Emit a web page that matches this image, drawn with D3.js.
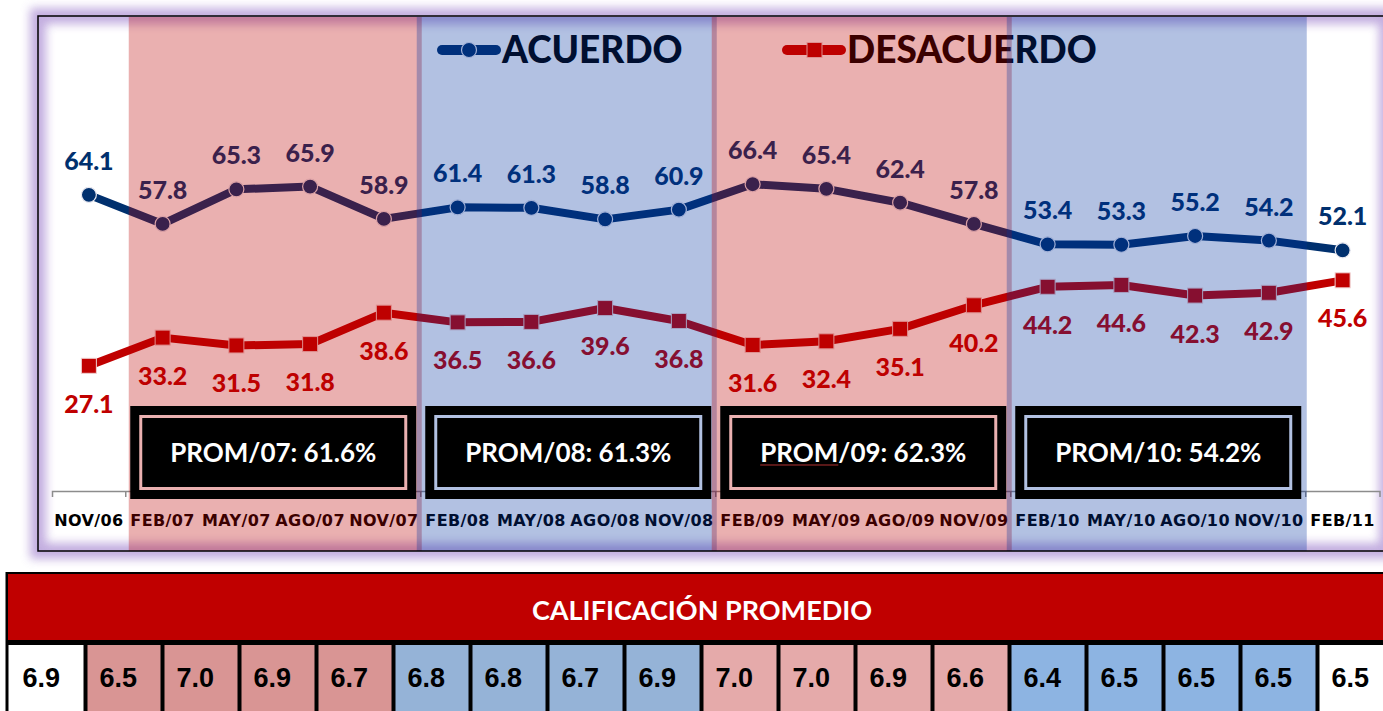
<!DOCTYPE html>
<html>
<head>
<meta charset="utf-8">
<script src="https://cdn.jsdelivr.net/npm/d3@7"></script>
<style>
  body { margin: 0; background: #fff; overflow: hidden; }
  svg { display: block; }
</style>
</head>
<body>
<svg id="chart"></svg>
<script>
// Data.
const categories = ['NOV/06', 'FEB/07', 'MAY/07', 'AGO/07', 'NOV/07', 'FEB/08', 'MAY/08', 'AGO/08', 'NOV/08',
  'FEB/09', 'MAY/09', 'AGO/09', 'NOV/09', 'FEB/10', 'MAY/10', 'AGO/10', 'NOV/10', 'FEB/11']
const acuerdo = [64.1, 57.8, 65.3, 65.9, 58.9, 61.4, 61.3, 58.8, 60.9, 66.4, 65.4, 62.4, 57.8, 53.4, 53.3, 55.2, 54.2, 52.1]
const desacuerdo = [27.1, 33.2, 31.5, 31.8, 38.6, 36.5, 36.6, 39.6, 36.8, 31.6, 32.4, 35.1, 40.2, 44.2, 44.6, 42.3, 42.9, 45.6]
const calificacion = [6.9, 6.5, 7.0, 6.9, 6.7, 6.8, 6.8, 6.7, 6.9, 7.0, 7.0, 6.9, 6.6, 6.4, 6.5, 6.5, 6.5, 6.5]
const periodLabels = ['PROM/07: 61.6%', 'PROM/08: 61.3%', 'PROM/09: 62.3%', 'PROM/10: 54.2%']
const periodStart = ['FEB/07', 'FEB/08', 'FEB/09', 'FEB/10']
const periodEnd = ['NOV/07', 'NOV/08', 'NOV/09', 'NOV/10']
const periodTint = ['red', 'blue', 'red', 'blue']
const tableTitle = 'CALIFICACIÓN PROMEDIO'

const width = 1383
const height = 711

const navy = '#00306e'
const red = '#c00000'
const bandFill = { red: 'rgba(187,0,0,0.31)', blue: 'rgba(0,50,160,0.30)' }
const cellFill = [
  { red: '#d99594', blue: '#95b3d7' },
  { red: '#e5aaaa', blue: '#8db4e2' }
]

const svg = d3.select('#chart').attr('width', width).attr('height', height)
const defs = svg.append('defs')
defs.append('filter')
  .attr('id', 'glow')
  .attr('x', '-5%').attr('y', '-10%').attr('width', '110%').attr('height', '120%')
  .append('feGaussianBlur')
  .attr('stdDeviation', 5)

/**
 * Scales.
 */
const x = d3.scaleBand().domain(categories).range([52, 1379.5])
const bw = x.bandwidth()
const cx = c => x(c) + bw / 2
const y = d3.scaleLinear().domain([0, 100]).range([491, 29])

/**
 * Frame with purple glow.
 */
const frame = { left: 38, top: 16, right: 1387, bottom: 551 }
svg.append('rect')
  .attr('x', frame.left).attr('y', frame.top)
  .attr('width', frame.right - frame.left).attr('height', frame.bottom - frame.top)
  .attr('fill', 'none')
  .attr('stroke', '#b49ad8')
  .attr('stroke-width', 16)
  .attr('opacity', 0.8)
  .attr('filter', 'url(#glow)')

/**
 * Axis.
 */
const axis = svg.append('g').attr('transform', `translate(0,${y(0)})`)
axis.call(d3.axisBottom(x).tickSizeInner(0).tickSizeOuter(6).tickPadding(0))
axis.select('.domain').attr('stroke', '#8c8c8c').attr('stroke-width', 1.5)
axis.selectAll('.tick text')
  .attr('y', 35)
  .attr('dy', 0)
  .attr('fill', '#000')
  .style('font-family', 'DejaVu Sans, sans-serif')
  .style('font-weight', 'bold')
  .style('font-size', '16px')
  .style('letter-spacing', '0.4px')
axis.selectAll('.boundary')
  .data(categories.slice(1))
  .enter()
  .append('line')
  .attr('x1', d => x(d)).attr('x2', d => x(d))
  .attr('y1', 0).attr('y2', 6)
  .attr('stroke', '#8c8c8c')
  .attr('stroke-width', 1.5)

/**
 * Series.
 */
const series = [
  { name: 'ACUERDO', values: acuerdo, color: navy, marker: 'circle', dy: -25 },
  { name: 'DESACUERDO', values: desacuerdo, color: red, marker: 'square', dy: 47 }
]
const line = d3.line().x((d, i) => cx(categories[i])).y(d => y(d))

series.forEach(s => {
  const g = svg.append('g')
  g.append('path')
    .datum(s.values)
    .attr('d', line)
    .attr('fill', 'none')
    .attr('stroke', s.color)
    .attr('stroke-width', 8)
    .attr('stroke-linejoin', 'round')
  if (s.marker === 'circle') {
    g.selectAll('circle')
      .data(s.values)
      .enter()
      .append('circle')
      .attr('cx', (d, i) => cx(categories[i]))
      .attr('cy', d => y(d))
      .attr('r', 7.5)
      .attr('fill', s.color)
      .attr('stroke', '#e8e8f0')
      .attr('stroke-width', 1.2)
  } else {
    g.selectAll('rect')
      .data(s.values)
      .enter()
      .append('rect')
      .attr('x', (d, i) => cx(categories[i]) - 7.5)
      .attr('y', d => y(d) - 7.5)
      .attr('width', 15)
      .attr('height', 15)
      .attr('fill', s.color)
      .attr('stroke', '#f0d0d0')
      .attr('stroke-width', 1)
  }
  g.selectAll('text')
    .data(s.values)
    .enter()
    .append('text')
    .attr('x', (d, i) => cx(categories[i]))
    .attr('y', d => y(d) + s.dy)
    .attr('text-anchor', 'middle')
    .attr('fill', s.color)
    .style('font-family', 'Lato, sans-serif')
    .style('font-weight', 900)
    .style('font-size', '25px')
    .text(d => d.toFixed(1))
})

/**
 * Legend.
 */
const legendX = [438, 783]
series.forEach((s, i) => {
  const lg = svg.append('g').attr('transform', `translate(${legendX[i]},50)`)
  lg.append('line')
    .attr('x1', 4).attr('x2', 58)
    .attr('stroke', s.color)
    .attr('stroke-width', 10)
    .attr('stroke-linecap', 'round')
  if (s.marker === 'circle') {
    lg.append('circle').attr('cx', 31).attr('r', 7.5)
      .attr('fill', s.color).attr('stroke', '#e8e8f0').attr('stroke-width', 1.2)
  } else {
    lg.append('rect').attr('x', 24).attr('y', -7.5).attr('width', 15).attr('height', 15)
      .attr('fill', s.color).attr('stroke', '#f0d0d0').attr('stroke-width', 1)
  }
  lg.append('text')
    .attr('x', 64)
    .attr('y', 13)
    .attr('fill', '#000')
    .style('font-family', 'Lato, sans-serif')
    .style('font-weight', 900)
    .style('font-size', '37px')
    .text(s.name)
})

/**
 * Shaded year bands (drawn on top, translucent).
 */
svg.append('g')
  .selectAll('rect')
  .data(periodStart)
  .enter()
  .append('rect')
  .attr('x', (d, i) => x(d) - (i === 0 ? -3 : 4))
  .attr('y', frame.top + 1)
  .attr('width', (d, i) => x(periodEnd[i]) + bw - x(d) + (i === 0 ? -2 : 5))
  .attr('height', frame.bottom - frame.top - 1)
  .attr('fill', (d, i) => bandFill[periodTint[i]])

/**
 * Average boxes.
 */
const boxes = svg.append('g')
periodStart.forEach((start, i) => {
  const mid = (x(start) + x(periodEnd[i]) + bw) / 2
  const w = 286
  const bx = mid - w / 2
  const by = 406
  const h = 93
  boxes.append('rect')
    .attr('x', bx + 4.5).attr('y', by + 4.5)
    .attr('width', w - 9).attr('height', h - 9)
    .attr('fill', 'none').attr('stroke', '#000').attr('stroke-width', 9)
  boxes.append('rect')
    .attr('x', bx + 12).attr('y', by + 12)
    .attr('width', w - 24).attr('height', h - 24)
    .attr('fill', '#000')
  const t = boxes.append('text')
    .attr('x', mid)
    .attr('y', by + 56)
    .attr('text-anchor', 'middle')
    .attr('fill', '#fff')
    .style('font-family', 'Lato, sans-serif')
    .style('font-weight', 'bold')
    .style('font-size', '26px')
    .text(periodLabels[i])
  if (i === 2) {
    // spell-check squiggle seen under "PROM" in the reference
    const node = t.node()
    const x0 = node.getStartPositionOfChar(0).x
    const x1 = x0 + node.getSubStringLength(0, 4)
    boxes.append('line')
      .attr('x1', x0).attr('x2', x1)
      .attr('y1', by + 59).attr('y2', by + 59)
      .attr('stroke', '#b03030').attr('stroke-width', 1)
  }
})

/**
 * Frame line.
 */
svg.append('rect')
  .attr('x', frame.left).attr('y', frame.top)
  .attr('width', frame.right - frame.left).attr('height', frame.bottom - frame.top)
  .attr('fill', 'none')
  .attr('stroke', '#000')
  .attr('stroke-width', 1.5)

/**
 * Table of average grades.
 */
const tx = d3.scaleBand().domain(categories).range([8.5, 1394.5])
const table = svg.append('g')
table.append('rect')
  .attr('x', 5.5).attr('y', 572)
  .attr('width', 1395).attr('height', 150)
  .attr('fill', '#000')
table.append('rect')
  .attr('x', 8).attr('y', 574)
  .attr('width', 1390).attr('height', 66)
  .attr('fill', red)
table.append('text')
  .attr('x', 702)
  .attr('y', 620)
  .attr('text-anchor', 'middle')
  .attr('fill', '#fff')
  .style('font-family', 'Lato, sans-serif')
  .style('font-weight', 'bold')
  .style('font-size', '27px')
  .text(tableTitle)

const periodOf = c => periodStart.findIndex((s, i) =>
  categories.indexOf(c) >= categories.indexOf(s) && categories.indexOf(c) <= categories.indexOf(periodEnd[i]))

const cells = table.selectAll('.cell')
  .data(calificacion)
  .enter()
  .append('g')
  .attr('class', 'cell')
  .attr('transform', (d, i) => `translate(${tx(categories[i])},645)`)
cells.append('rect')
  .attr('x', (d, i) => i === 0 ? 0 : 2)
  .attr('width', (d, i) => i === 0 ? tx.bandwidth() - 2 : tx.bandwidth() - 4)
  .attr('height', 70)
  .attr('fill', (d, i) => {
    const p = periodOf(categories[i])
    return p < 0 ? '#fff' : cellFill[p < 2 ? 0 : 1][periodTint[p]]
  })
cells.append('text')
  .attr('x', 14)
  .attr('y', 42)
  .attr('fill', '#000')
  .style('font-family', "'Liberation Sans Narrow', 'Arial Narrow', sans-serif")
  .style('font-weight', 'bold')
  .style('font-size', '27px')
  .text(d => d.toFixed(1))
</script>
</body>
</html>
